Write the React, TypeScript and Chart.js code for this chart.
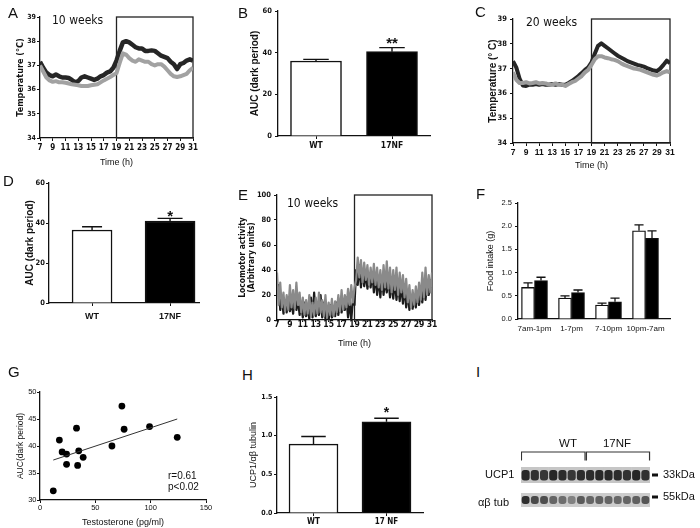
import React, { useEffect, useRef } from "react";
import { Chart, registerables } from "chart.js";

Chart.register(...registerables);

const NARROW = "'Liberation Sans Narrow', 'DejaVu Sans Condensed', 'Arial Narrow', sans-serif";
const SANS = "'Liberation Sans', Arial, Helvetica, sans-serif";

// ================= DATA =================
const HOUR_START = 7;
const TEMP_STEP_H = 0.5;
const ACT_STEP_H = 0.25;
const HOUR_TICKS = [7, 9, 11, 13, 15, 17, 19, 21, 23, 25, 27, 29, 31];
const DARK_PERIOD = [19, 31];
const TEMP_TICKS = [34, 35, 36, 37, 38, 39];
const ACT_TICKS = [0, 20, 40, 60, 80, 100];

// Panel A – body temperature, 10 weeks (every 0.5 h from 7 h to 31 h)
const TEMP10_WT = [
  37.0, 36.75, 36.5, 36.38, 36.32, 36.35, 36.3, 36.3, 36.28, 36.25, 36.22, 36.2,
  36.18, 36.15, 36.15, 36.15, 36.18, 36.2, 36.22, 36.3, 36.38, 36.45, 36.52, 36.6,
  36.68, 37.1, 37.5, 37.45, 37.3, 37.2, 37.15, 37.25, 37.2, 37.15, 37.15, 37.05,
  37.0, 37.05, 37.05, 36.95, 36.8, 36.65, 36.55, 36.52, 36.55, 36.6, 36.65, 36.8, 36.9,
];
const TEMP10_17NF = [
  37.15, 36.9, 36.7, 36.6, 36.55, 36.62, 36.55, 36.5, 36.5, 36.48, 36.4, 36.3,
  36.35, 36.5, 36.55, 36.5, 36.45, 36.4, 36.45, 36.55, 36.6, 36.7, 36.75, 36.9,
  37.2, 37.6, 37.95, 38.0, 37.95, 37.85, 37.75, 37.7, 37.7, 37.6, 37.6, 37.62,
  37.6, 37.5, 37.4, 37.35, 37.3, 37.15, 37.05, 36.85, 37.05, 37.1, 37.2, 37.25, 37.2,
];
// Panel C – body temperature, 20 weeks
const TEMP20_WT = [
  36.85, 36.55, 36.42, 36.42, 36.45, 36.4, 36.42, 36.45, 36.4, 36.42, 36.4, 36.35,
  36.35, 36.4, 36.35, 36.35, 36.3, 36.38, 36.45, 36.5, 36.6, 36.7, 36.85, 36.95,
  37.15, 37.38, 37.5, 37.5, 37.45, 37.42, 37.38, 37.35, 37.3, 37.22, 37.15, 37.1,
  37.05, 37.0, 36.98, 36.95, 36.9, 36.85, 36.8, 36.75, 36.72, 36.78, 36.85, 36.9, 36.85,
];
const TEMP20_17NF = [
  37.3, 37.05, 36.6, 36.32, 36.3, 36.35, 36.35, 36.38, 36.35, 36.38, 36.35, 36.35,
  36.38, 36.35, 36.38, 36.35, 36.35, 36.42, 36.5, 36.6, 36.7, 36.82, 36.95, 37.05,
  37.25, 37.6, 37.92, 38.02, 37.92, 37.82, 37.72, 37.62, 37.52, 37.45, 37.38, 37.3,
  37.25, 37.2, 37.15, 37.12, 37.08, 37.02, 36.97, 36.92, 36.9, 37.0, 37.15, 37.32, 37.22,
];
// Panel E – locomotor activity, 10 weeks (every 0.25 h from 7 h to 31 h)
const ACT10_WT = [
  38, 12, 30, 10, 22, 7, 20, 8,
  28, 10, 24, 9, 30, 12, 22, 6,
  18, 4, 16, 5, 20, 3, 14, 4,
  18, 5, 22, 6, 16, 3, 20, 2,
  14, 4, 17, 3, 15, 6, 20, 7,
  24, 8, 20, 10, 25, 12, 28, 14,
  26, 32, 50, 34, 48, 30, 46, 32,
  44, 28, 42, 30, 45, 28, 42, 26,
  40, 24, 44, 26, 47, 25, 42, 22,
  40, 24, 42, 20, 38, 22, 36, 18,
  33, 14, 28, 10, 24, 12, 27, 14,
  30, 16, 38, 18, 42, 20, 36, 22,
  38,
];
const ACT10_17NF = [
  20, 28, 8, 18, 5, 15, 6, 18,
  7, 14, 5, 20, 8, 16, 4, 12,
  2, 14, 3, 10, 1, 18, 2, 22,
  3, 12, 4, 20, 2, 14, 1, 10,
  0, 12, 2, 8, 3, 14, 4, 16,
  6, 14, 8, 18, 2, 15, 0, 16,
  12, 40, 28, 44, 26, 40, 27, 38,
  25, 36, 26, 38, 22, 36, 20, 34,
  18, 35, 20, 32, 22, 34, 18, 30,
  17, 32, 16, 30, 15, 28, 13, 26,
  10, 22, 8, 20, 9, 18, 10, 22,
  12, 24, 14, 28, 16, 30, 20, 32,
  26,
];

// Panels B / D – AUC of the dark period
const GENOTYPES = ["WT", "17NF"];
const AUC_TICKS = [0, 20, 40, 60];
const AUC10_MEAN = [36.0, 40.5];
const AUC10_SEM = [0.8, 1.9];
const AUC10_SIG = ["", "**"];
const AUC20_MEAN = [36.5, 41.0];
const AUC20_SEM = [1.6, 1.3];
const AUC20_SIG = ["", "*"];

// Panel F – food intake
const FOOD_PERIODS = ["7am-1pm", "1-7pm", "7-10pm", "10pm-7am"];
const FOOD_TICKS = [0, 0.5, 1.0, 1.5, 2.0, 2.5];
const FOOD_WT = [0.68, 0.45, 0.3, 1.9];
const FOOD_WT_SEM = [0.1, 0.05, 0.04, 0.13];
const FOOD_17NF = [0.83, 0.57, 0.37, 1.74];
const FOOD_17NF_SEM = [0.07, 0.055, 0.08, 0.16];

// Panel G – testosterone vs AUC
const TESTO = [12, 17.5, 20, 24, 24, 33, 34, 35, 39, 65, 74, 76, 99, 124];
const AUC_DARK = [31.7, 41.1, 38.9, 38.5, 36.6, 43.3, 36.4, 39.1, 37.9, 40.0, 47.4, 43.1, 43.6, 41.6];
const TESTO_TICKS = [0, 50, 100, 150];
const AUCG_TICKS = [30, 35, 40, 45, 50];
const FIT_X = [12, 124];
const FIT_Y = [37.4, 45.0];
const CORR_TEXT = ["r=0.61", "p<0.02"];

// Panel H – UCP1 / ab tubulin
const UCP1_GENOS = ["WT", "17 NF"];
const UCP1_TICKS = [0, 0.5, 1.0, 1.5];
const UCP1_MEAN = [0.89, 1.18];
const UCP1_SEM = [0.1, 0.045];
const UCP1_SIG = ["", "*"];

// Panel I – western blot lanes (band intensity 0..1)
const BLOT_LANES = [1, 2, 3, 4, 5, 6, 7, 8, 9, 10, 11, 12, 13, 14];
const BLOT_UCP1 = [0.92, 0.88, 0.84, 0.93, 0.9, 0.84, 0.9, 0.9, 0.92, 0.92, 0.9, 0.87, 0.93, 0.88];
const BLOT_TUB = [0.88, 0.74, 0.72, 0.6, 0.55, 0.45, 0.66, 0.6, 0.62, 0.6, 0.58, 0.6, 0.62, 0.68];
const BLOT_GROUPS = ["WT", "17NF"];
const BLOT_ROWS = ["UCP1", "αβ tub"];
const BLOT_MW = ["33kDa", "55kDa"];

const PANEL_LETTERS = ["A", "B", "C", "D", "E", "F", "G", "H", "I"];
const AGE_LABELS = ["10 weeks", "20 weeks", "10 weeks"];

// ================= HELPERS =================
type Frame = {
  left: number; top: number; width: number; height: number;
  yW: number; xH: number; padTop: number; padRight: number;
};
function frame(pl: number, pt: number, pr: number, pb: number, yW: number, xH: number, padTop = 8, padRight = 10): Frame {
  return { left: pl - yW, top: pt - padTop, width: pr - pl + yW + padRight, height: pb - pt + padTop + xH, yW, xH, padTop, padRight };
}
const fnt = (family: string, size: number, weight: string = "normal", lineHeight: any = 1.2) => ({ family, size, weight, lineHeight });
const tickGrid = (len: number) => ({ display: true, drawOnChartArea: false, drawTicks: len > 0, tickLength: len, color: "#111", lineWidth: 1, offset: false });
const AX_BORDER = { display: true, color: "#111", width: 1.3 };
const INK = "#111";

function baseOptions(f: Frame, extraPlugins: any = {}) {
  return {
    responsive: false,
    animation: false,
    events: [],
    layout: { padding: { top: f.padTop, right: f.padRight, left: 0, bottom: 0 } },
    plugins: { legend: { display: false }, tooltip: { enabled: false }, ...extraPlugins },
  };
}
const setTicks = (vals: number[]) => (s: any) => { s.ticks = vals.map((v) => ({ value: v })); };

// ================= PLUGINS =================
const darkBoxPlugin = {
  id: "darkBox",
  beforeDatasetsDraw(chart: any, _a: any, opts: any) {
    const { x, y } = chart.scales;
    const ctx = chart.ctx;
    const x0 = x.getPixelForValue(opts.from);
    const x1 = x.getPixelForValue(opts.to);
    const t = y.getPixelForValue(y.max);
    const b = y.getPixelForValue(y.min);
    ctx.save();
    ctx.strokeStyle = opts.color || "#222";
    ctx.lineWidth = opts.width || 1.3;
    ctx.strokeRect(x0, t, x1 - x0, b - t);
    ctx.restore();
  },
};

const errorBarPlugin = {
  id: "errorBars",
  afterDatasetsDraw(chart: any, _a: any, opts: any) {
    const ctx = chart.ctx;
    const ys = chart.scales.y;
    chart.data.datasets.forEach((ds: any, di: number) => {
      const meta = chart.getDatasetMeta(di);
      meta.data.forEach((bar: any, i: number) => {
        const raw = ds.data[i];
        if (!raw) return;
        const v = raw.y;
        const e = ds.errors ? ds.errors[i] : 0;
        const p = bar.getProps(["x", "y", "width"], true);
        const top = ys.getPixelForValue(v + e);
        ctx.save();
        ctx.strokeStyle = "#111";
        ctx.lineWidth = opts.lineWidth || 1.4;
        if (e) {
          ctx.beginPath();
          ctx.moveTo(p.x, p.y);
          ctx.lineTo(p.x, top);
          const cw = (p.width * (opts.capRatio || 0.5)) / 2;
          ctx.moveTo(p.x - cw, top);
          ctx.lineTo(p.x + cw, top);
          ctx.stroke();
        }
        const s = ds.sig ? ds.sig[i] : "";
        if (s) {
          ctx.fillStyle = "#111";
          ctx.font = `bold ${opts.sigSize || 15}px ${SANS}`;
          ctx.textAlign = "center";
          ctx.textBaseline = "alphabetic";
          ctx.fillText(s, p.x, top - (opts.sigGap || 6) + 7);
        }
        ctx.restore();
      });
    });
  },
};

const blotPlugin = {
  id: "blotMarks",
  afterDatasetsDraw(chart: any, _a: any, opts: any) {
    const { x, y } = chart.scales;
    const ctx = chart.ctx;
    ctx.save();
    ctx.strokeStyle = "#333";
    ctx.lineWidth = 1.2;
    const yt = y.getPixelForValue(opts.bracketTop);
    const yb = y.getPixelForValue(opts.bracketBottom);
    opts.brackets.forEach((br: number[]) => {
      const a = x.getPixelForValue(br[0]);
      const b = x.getPixelForValue(br[1]);
      ctx.beginPath();
      ctx.moveTo(a, yb);
      ctx.lineTo(a, yt);
      ctx.lineTo(b, yt);
      ctx.lineTo(b, yb);
      ctx.stroke();
    });
    ctx.fillStyle = "#111";
    opts.markers.forEach((v: number) => {
      const py = y.getPixelForValue(v);
      ctx.fillRect(chart.chartArea.right + 2, py - 1.5, 6, 3);
    });
    ctx.restore();
  },
};

// ================= CONFIGS =================
function timeConfig(f: Frame, p: any) {
  const pts = (arr: number[]) => arr.map((v, i) => ({ x: HOUR_START + i * p.step, y: v }));
  return {
    type: "line",
    data: {
      datasets: [
        { data: pts(p.wt), borderColor: p.wtColor, borderWidth: p.wtWidth, pointRadius: 0, order: 0, borderJoinStyle: "round" },
        { data: pts(p.nf), borderColor: p.nfColor, borderWidth: p.nfWidth, pointRadius: 0, order: 1, borderJoinStyle: "round" },
      ],
    },
    options: {
      ...baseOptions(f, { darkBox: { from: DARK_PERIOD[0], to: DARK_PERIOD[1], color: "#222", width: 1.3 } }),
      scales: {
        x: {
          type: "linear", min: HOUR_TICKS[0], max: HOUR_TICKS[HOUR_TICKS.length - 1], offset: false,
          afterBuildTicks: setTicks(HOUR_TICKS),
          afterFit: (s: any) => { s.height = f.xH; },
          ticks: { autoSkip: false, maxRotation: 0, font: p.xTickFont, color: INK, padding: p.xTickPad },
          grid: tickGrid(p.xTickLen), border: AX_BORDER,
          title: { display: true, text: "Time (h)", font: fnt(SANS, 9), color: INK, padding: { top: 0, bottom: 0 } },
        },
        y: {
          type: "linear", min: p.yTicks[0], max: p.yTicks[p.yTicks.length - 1],
          afterBuildTicks: setTicks(p.yTicks),
          afterFit: (s: any) => { s.width = f.yW; },
          ticks: { font: p.yTickFont, color: INK, padding: p.yTickPad },
          grid: tickGrid(3), border: AX_BORDER,
          title: { display: true, text: p.yTitle, font: p.yTitleFont, color: INK, padding: { top: p.yTitlePad, bottom: 0 } },
        },
      },
    },
    plugins: [darkBoxPlugin],
  };
}

function aucConfig(f: Frame, p: any) {
  return {
    type: "bar",
    data: {
      datasets: p.labels.map((_l: string, i: number) => ({
        data: [{ x: i, y: p.mean[i] }],
        errors: [p.sem[i]],
        sig: [p.sig[i]],
        backgroundColor: i === 0 ? "#ffffff" : "#000000",
        borderColor: "#111",
        borderWidth: 1.5,
        barThickness: p.widths[i],
        grouped: false,
      })),
    },
    options: {
      ...baseOptions(f, { errorBars: { capRatio: p.capRatio, sigGap: p.sigGap, sigSize: p.sigSize } }),
      scales: {
        x: {
          type: "linear", min: p.xMin, max: p.xMax, offset: false,
          afterBuildTicks: setTicks(p.labels.map((_l: string, i: number) => i)),
          afterFit: (s: any) => { s.height = f.xH; },
          ticks: { autoSkip: false, maxRotation: 0, font: p.xTickFont, color: INK, padding: p.xTickPad, callback: (v: number) => p.labels[v] },
          grid: tickGrid(3), border: AX_BORDER,
        },
        y: {
          type: "linear", min: p.yTicks[0], max: p.yTicks[p.yTicks.length - 1],
          afterBuildTicks: setTicks(p.yTicks),
          afterFit: (s: any) => { s.width = f.yW; },
          ticks: { font: p.yTickFont, color: INK, padding: p.yTickPad, callback: p.fmt },
          grid: tickGrid(3), border: AX_BORDER,
          title: { display: true, text: p.yTitle, font: p.yTitleFont, color: INK, padding: { top: p.yTitlePad, bottom: 0 } },
        },
      },
    },
    plugins: [errorBarPlugin],
  };
}

const fA = frame(40, 17, 193, 138, 40, 30, 10, 10);
const fB = frame(278, 11, 430, 136, 30, 20, 8, 10);
const fC = frame(513, 19, 670, 143, 30, 28, 8, 10);
const fD = frame(49, 183, 199, 303, 38, 25, 8, 10);
const fE = frame(277, 195, 432, 320, 40, 29, 8, 10);
const fF = frame(518, 203, 670, 319, 35, 20, 8, 10);
const fG = frame(40, 392, 206, 500, 36, 28, 8, 10);
const fH = frame(277, 397, 423, 513, 36, 14, 8, 10);
const fI = frame(521, 440, 650, 510, 0, 0, 0, 14);

const makeA = () => timeConfig(fA, {
  wt: TEMP10_WT, nf: TEMP10_17NF, step: TEMP_STEP_H, wtColor: "#a2a2a2", nfColor: "#262626", wtWidth: 4, nfWidth: 4.5,
  yTicks: TEMP_TICKS, yTitle: "Temperature (°C)", yTitleFont: fnt(NARROW, 9, "bold"), yTitlePad: 14.9,
  yTickFont: fnt(NARROW, 7, "bold"), yTickPad: 1, xTickFont: fnt(NARROW, 8, "bold"), xTickPad: 2, xTickLen: 3,
});
const makeC = () => timeConfig(fC, {
  wt: TEMP20_WT, nf: TEMP20_17NF, step: TEMP_STEP_H, wtColor: "#9c9c9c", nfColor: "#262626", wtWidth: 4, nfWidth: 4,
  yTicks: TEMP_TICKS, yTitle: "Temperature (° C)", yTitleFont: fnt(SANS, 10, "bold"), yTitlePad: 4,
  yTickFont: fnt(NARROW, 7.5, "bold"), yTickPad: 3, xTickFont: fnt(SANS, 8.5, "bold"), xTickPad: 1.5, xTickLen: 3,
});
const makeE = () => timeConfig(fE, {
  wt: ACT10_WT, nf: ACT10_17NF, step: ACT_STEP_H, wtColor: "#8a8a8a", nfColor: "#1c1c1c", wtWidth: 2.2, nfWidth: 2.2,
  yTicks: ACT_TICKS, yTitle: ["Locomotor activity", "(Arbitrary units)"], yTitleFont: fnt(NARROW, 8.5, "bold", "9px"), yTitlePad: 1.5,
  yTickFont: fnt(NARROW, 7.5, "bold"), yTickPad: 3, xTickFont: fnt(NARROW, 8.5, "bold"), xTickPad: -2.5, xTickLen: 2,
});

const makeB = () => aucConfig(fB, {
  labels: GENOTYPES, mean: AUC10_MEAN, sem: AUC10_SEM, sig: AUC10_SIG, widths: [51, 51], xMin: -0.5, xMax: 1.5,
  yTicks: AUC_TICKS, yTitle: "AUC (dark period)", yTitleFont: fnt(SANS, 10, "bold"), yTitlePad: 1.5,
  yTickFont: fnt(NARROW, 7.5, "bold"), yTickPad: 3, xTickFont: fnt(NARROW, 8.5, "bold"), xTickPad: 1.9,
  capRatio: 0.5, sigGap: 7, sigSize: 15,
});
const makeD = () => aucConfig(fD, {
  labels: GENOTYPES, mean: AUC20_MEAN, sem: AUC20_SEM, sig: AUC20_SIG, widths: [40, 50], xMin: -0.552, xMax: 1.371,
  yTicks: AUC_TICKS, yTitle: "AUC (dark period)", yTitleFont: fnt(SANS, 10, "bold"), yTitlePad: 13.3,
  yTickFont: fnt(NARROW, 7.5, "bold"), yTickPad: 1, xTickFont: fnt(SANS, 9, "bold"), xTickPad: 5.6,
  capRatio: 0.5, sigGap: 4.3, sigSize: 15,
});
const makeH = () => aucConfig(fH, {
  labels: UCP1_GENOS, mean: UCP1_MEAN, sem: UCP1_SEM, sig: UCP1_SIG, widths: [49, 49], xMin: -0.5, xMax: 1.5,
  yTicks: UCP1_TICKS, yTitle: "UCP1/αβ tubulin", yTitleFont: fnt(SANS, 9), yTitlePad: 6.9,
  yTickFont: fnt(NARROW, 7, "bold"), yTickPad: 1.5, xTickFont: fnt(NARROW, 8, "bold"), xTickPad: 1.2,
  capRatio: 0.5, sigGap: 8, sigSize: 14, fmt: (v: number) => v.toFixed(1),
});

const makeF = () => ({
  type: "bar",
  data: {
    datasets: [
      { data: FOOD_WT.map((v, i) => ({ x: i, y: v })), errors: FOOD_WT_SEM, backgroundColor: "#ffffff", borderColor: "#111", borderWidth: 1.3, barThickness: 13 },
      { data: FOOD_17NF.map((v, i) => ({ x: i, y: v })), errors: FOOD_17NF_SEM, backgroundColor: "#000000", borderColor: "#111", borderWidth: 1.3, barThickness: 13 },
    ],
  },
  options: {
    ...baseOptions(fF, { errorBars: { capRatio: 0.7, lineWidth: 1.3 } }),
    scales: {
      x: {
        type: "linear", min: -0.446, max: 3.662, offset: false,
        afterBuildTicks: setTicks(FOOD_PERIODS.map((_p, i) => i)),
        afterFit: (s: any) => { s.height = fF.xH; },
        ticks: { autoSkip: false, maxRotation: 0, font: fnt(SANS, 8), color: INK, padding: 5.2, callback: (v: number) => FOOD_PERIODS[v] },
        grid: tickGrid(0), border: AX_BORDER,
      },
      y: {
        type: "linear", min: 0, max: 2.5,
        afterBuildTicks: setTicks(FOOD_TICKS),
        afterFit: (s: any) => { s.width = fF.yW; },
        ticks: { font: fnt(SANS, 7.5), color: INK, padding: 3, callback: (v: number) => v.toFixed(1) },
        grid: tickGrid(3), border: AX_BORDER,
        title: { display: true, text: "Food intake (g)", font: fnt(SANS, 9), color: INK, padding: { top: 2.4, bottom: 0 } },
      },
    },
  },
  plugins: [errorBarPlugin],
});

const makeG = () => ({
  type: "scatter",
  data: {
    datasets: [
      { type: "line", data: FIT_X.map((x, i) => ({ x, y: FIT_Y[i] })), borderColor: "#333", borderWidth: 1, pointRadius: 0 },
      { data: TESTO.map((x, i) => ({ x, y: AUC_DARK[i] })), backgroundColor: "#000", borderWidth: 0, pointRadius: 3.4 },
    ],
  },
  options: {
    ...baseOptions(fG),
    scales: {
      x: {
        type: "linear", min: 0, max: 150,
        afterBuildTicks: setTicks(TESTO_TICKS),
        afterFit: (s: any) => { s.height = fG.xH; },
        ticks: { autoSkip: false, maxRotation: 0, font: fnt(SANS, 7.5), color: INK, padding: 0.5 },
        grid: tickGrid(3), border: AX_BORDER,
        title: { display: true, text: "Testosterone (pg/ml)", font: fnt(SANS, 9), color: INK, padding: { top: 0, bottom: 0 } },
      },
      y: {
        type: "linear", min: 30, max: 50,
        afterBuildTicks: setTicks(AUCG_TICKS),
        afterFit: (s: any) => { s.width = fG.yW; },
        ticks: { font: fnt(SANS, 7.5), color: INK, padding: 0.5 },
        grid: tickGrid(3), border: AX_BORDER,
        title: { display: true, text: "AUC(dark period)", font: fnt(SANS, 8.5), color: INK, padding: { top: 11.2, bottom: 0 } },
      },
    },
  },
});

const shade = (v: number) => {
  const g = Math.round(215 - 190 * v);
  return `rgb(${g},${g},${g})`;
};
const makeI = () => ({
  type: "bar",
  data: {
    datasets: [
      { data: BLOT_LANES.map((l) => ({ x: l, y: [27, 43] })), backgroundColor: "#c6c6c6", barPercentage: 1.06, categoryPercentage: 1, grouped: false, order: 3 },
      { data: BLOT_LANES.map((l) => ({ x: l, y: [3, 17] })), backgroundColor: "#cdcdcd", barPercentage: 1.06, categoryPercentage: 1, grouped: false, order: 3 },
      { data: BLOT_LANES.map((l) => ({ x: l, y: [29.5, 40] })), backgroundColor: BLOT_UCP1.map(shade), barPercentage: 0.88, categoryPercentage: 1, borderRadius: 3, borderSkipped: false, grouped: false, order: 1 },
      { data: BLOT_LANES.map((l) => ({ x: l, y: [6, 14] })), backgroundColor: BLOT_TUB.map(shade), barPercentage: 0.85, categoryPercentage: 1, borderRadius: 3, borderSkipped: false, grouped: false, order: 1 },
    ],
  },
  options: {
    ...baseOptions(fI, { blotMarks: { brackets: [[0.55, 7.45], [7.6, 14.45]], bracketTop: 58, bracketBottom: 49.5, markers: [35, 13] } }),
    scales: {
      x: { type: "linear", min: 0.5, max: 14.5, display: false, offset: false },
      y: { type: "linear", min: 0, max: 70, display: false },
    },
  },
  plugins: [blotPlugin],
});

// ================= COMPONENTS =================
function ChartCanvas({ f, make }: { f: Frame; make: () => any }) {
  const ref = useRef<HTMLCanvasElement | null>(null);
  useEffect(() => {
    if (!ref.current) return;
    const chart = new Chart(ref.current, make() as any);
    return () => chart.destroy();
  }, [make]);
  return (
    <canvas
      ref={ref}
      width={Math.round(f.width)}
      height={Math.round(f.height)}
      style={{ position: "absolute", left: f.left, top: f.top, width: Math.round(f.width), height: Math.round(f.height) }}
    />
  );
}

function Txt({ x, y, size, family = SANS, weight = "normal", align = "left", children }: any) {
  const style: any = {
    position: "absolute",
    top: y - size * 0.6,
    left: x,
    fontSize: size,
    lineHeight: `${size * 1.2}px`,
    fontFamily: family,
    fontWeight: weight,
    whiteSpace: "nowrap",
    color: "#111",
  };
  if (align === "center") style.transform = "translateX(-50%)";
  return <div style={style}>{children}</div>;
}

const LETTER_POS = [
  [8, 13], [238, 13], [475, 12], [3, 181], [238, 195], [476, 194], [8, 372], [242, 375], [476, 372],
];

export default function App() {
  return (
    <div style={{ position: "absolute", left: 0, top: 0, width: 700, height: 528, background: "#fff", overflow: "hidden" }}>
      <ChartCanvas f={fA} make={makeA} />
      <ChartCanvas f={fB} make={makeB} />
      <ChartCanvas f={fC} make={makeC} />
      <ChartCanvas f={fD} make={makeD} />
      <ChartCanvas f={fE} make={makeE} />
      <ChartCanvas f={fF} make={makeF} />
      <ChartCanvas f={fG} make={makeG} />
      <ChartCanvas f={fH} make={makeH} />
      <ChartCanvas f={fI} make={makeI} />

      {PANEL_LETTERS.map((l, i) => (
        <Txt key={l} x={LETTER_POS[i][0]} y={LETTER_POS[i][1]} size={15}>{l}</Txt>
      ))}
      <Txt x={52} y={20} size={12} family={NARROW}>{AGE_LABELS[0]}</Txt>
      <Txt x={526} y={22} size={12} family={NARROW}>{AGE_LABELS[1]}</Txt>
      <Txt x={287} y={203} size={12} family={NARROW}>{AGE_LABELS[2]}</Txt>

      <Txt x={168} y={476} size={10}>{CORR_TEXT[0]}</Txt>
      <Txt x={168} y={487} size={10}>{CORR_TEXT[1]}</Txt>

      <Txt x={568} y={444} size={11.5} align="center">{BLOT_GROUPS[0]}</Txt>
      <Txt x={617} y={444} size={11.5} align="center">{BLOT_GROUPS[1]}</Txt>
      <Txt x={485} y={475} size={11}>{BLOT_ROWS[0]}</Txt>
      <Txt x={478} y={503} size={11}>{BLOT_ROWS[1]}</Txt>
      <Txt x={663} y={475} size={11}>{BLOT_MW[0]}</Txt>
      <Txt x={663} y={497} size={11}>{BLOT_MW[1]}</Txt>
    </div>
  );
}
